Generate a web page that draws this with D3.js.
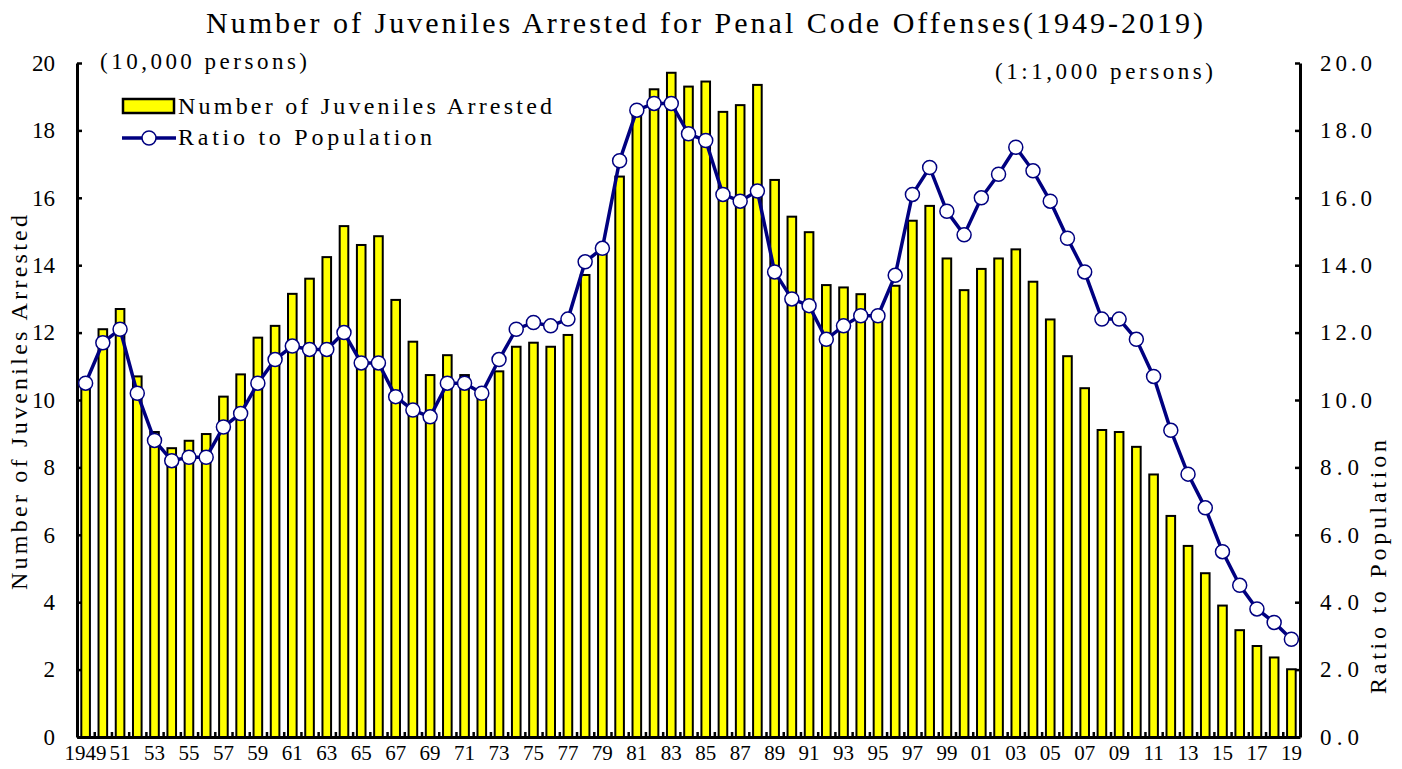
<!DOCTYPE html>
<html>
<head>
<meta charset="utf-8">
<script src="https://cdn.jsdelivr.net/npm/d3@7"></script>
<style>
  body { margin: 0; background: #fff; }
  text { font-family: "Liberation Serif", serif; fill: #000; }
</style>
</head>
<body>
<div class="chart"></div>
<script>
// Data
var years = d3.range(1949, 2020);
var arrested = [10.6, 12.1, 12.7, 10.7, 9.05, 8.57, 8.79, 8.99, 10.1, 10.76,
  11.85, 12.2, 13.15, 13.6, 14.24, 15.16, 14.6, 14.86, 12.97, 11.73,
  10.74, 11.33, 10.74, 10.1, 10.85, 11.58, 11.7, 11.58, 11.93, 13.71,
  14.4, 16.63, 18.7, 19.22, 19.71, 19.3, 19.45, 18.55, 18.75, 19.35,
  16.53, 15.44, 14.98, 13.41, 13.34, 13.14, 12.5, 13.39, 15.32, 15.76,
  14.2, 13.26, 13.89, 14.2, 14.47, 13.51, 12.39, 11.3, 10.35, 9.11,
  9.05, 8.61, 7.79, 6.56, 5.67, 4.86, 3.9, 3.17, 2.7, 2.36,
  2.01];
var ratio = [10.5, 11.7, 12.1, 10.2, 8.8, 8.2, 8.3, 8.3, 9.2, 9.6,
  10.5, 11.2, 11.6, 11.5, 11.5, 12.0, 11.1, 11.1, 10.1, 9.7,
  9.5, 10.5, 10.5, 10.2, 11.2, 12.1, 12.3, 12.2, 12.4, 14.1,
  14.5, 17.1, 18.6, 18.8, 18.8, 17.9, 17.7, 16.1, 15.9, 16.2,
  13.8, 13.0, 12.8, 11.8, 12.2, 12.5, 12.5, 13.7, 16.1, 16.9,
  15.6, 14.9, 16.0, 16.7, 17.5, 16.8, 15.9, 14.8, 13.8, 12.4,
  12.4, 11.8, 10.7, 9.1, 7.8, 6.8, 5.5, 4.5, 3.8, 3.4,
  2.9];
var leftTicks = d3.range(0, 21, 2);
var rightTicks = d3.range(0, 21, 2);
var labelYears = years.filter(d => d % 2 === 1);

var svgWidth = 1402;
var svgHeight = 769;
var margin = {top: 63, right: 102, bottom: 32, left: 77};
var width = svgWidth - margin.left - margin.right;
var height = svgHeight - margin.top - margin.bottom;

var svg = d3.select(".chart")
  .append("svg")
  .attr("width", svgWidth)
  .attr("height", svgHeight);

var chartGroup = svg.append("g")
  .attr("transform", "translate(" + margin.left + "," + margin.top + ")");

// Scales
var xScale = d3.scaleBand().domain(years).range([0, width]).padding(0);
var xIdx = d3.scaleLinear().domain([0, years.length]).range([0, width]);
var yLeft = d3.scaleLinear().domain([0, 20]).range([height, 0]);
var yRight = d3.scaleLinear().domain([0, 20]).range([height, 0]);
var bw = xScale.bandwidth();

// Bars
chartGroup.selectAll("rect.bar")
  .data(arrested)
  .enter()
  .append("rect")
  .attr("class", "bar")
  .attr("x", (d, i) => xScale(years[i]) + bw * 0.25)
  .attr("width", bw * 0.5)
  .attr("y", d => yLeft(d))
  .attr("height", d => height - yLeft(d))
  .attr("fill", "#ffff00")
  .attr("stroke", "#000")
  .attr("stroke-width", 2);

// Axes
function styleAxis(g, fontSize) {
  g.select(".domain").attr("stroke", "#000").attr("stroke-width", 3);
  g.selectAll(".tick line").attr("stroke", "#000").attr("stroke-width", 2.5);
  g.selectAll("text").style("font-size", fontSize + "px")
    .style("font-family", '"Liberation Serif", serif');
}

// small inward ticks between the bars
chartGroup.append("g")
  .attr("transform", `translate(0, ${height})`)
  .call(d3.axisBottom(xIdx).tickValues(d3.range(0, years.length + 1)).tickSize(-5).tickSizeOuter(0).tickFormat(""))
  .call(g => styleAxis(g, 20));

chartGroup.append("g")
  .attr("transform", `translate(0, ${height})`)
  .call(d3.axisBottom(xScale).tickValues(labelYears).tickSize(0).tickPadding(8)
    .tickFormat(d => d === 1949 ? "1949" : String(d).slice(2)))
  .call(g => g.select(".domain").remove())
  .call(g => styleAxis(g, 21));

chartGroup.append("g")
  .call(d3.axisLeft(yLeft).tickValues(leftTicks).tickSize(-5).tickSizeOuter(0).tickPadding(22))
  .call(g => styleAxis(g, 23));

chartGroup.append("g")
  .attr("transform", `translate(${width}, 0)`)
  .call(d3.axisRight(yRight).tickValues(rightTicks).tickSize(-5).tickSizeOuter(0).tickPadding(20)
    .tickFormat(d3.format(".1f")))
  .call(g => styleAxis(g, 23))
  .call(g => g.selectAll(".tick text")
    .attr("textLength", function() { return 13 * this.textContent.length; })
    .attr("lengthAdjust", "spacing"));

// Line
var line = d3.line()
  .x((d, i) => xScale(years[i]) + bw / 2)
  .y(d => yRight(d));

chartGroup.append("path")
  .datum(ratio)
  .attr("d", line)
  .attr("fill", "none")
  .attr("stroke", "#000080")
  .attr("stroke-width", 3.5);

chartGroup.selectAll("circle.pt")
  .data(ratio)
  .enter()
  .append("circle")
  .attr("class", "pt")
  .attr("cx", (d, i) => xScale(years[i]) + bw / 2)
  .attr("cy", d => yRight(d))
  .attr("r", 7)
  .attr("fill", "#fff")
  .attr("stroke", "#000080")
  .attr("stroke-width", 1.5);

// Title
svg.append("text")
  .attr("x", 206)
  .attr("y", 33)
  .attr("textLength", 997)
  .attr("lengthAdjust", "spacing")
  .style("font-size", "30px")
  .text("Number of Juveniles Arrested for Penal Code Offenses(1949-2019)");

// Units
svg.append("text")
  .attr("x", 100)
  .attr("y", 69)
  .attr("textLength", 207)
  .attr("lengthAdjust", "spacing")
  .style("font-size", "23px")
  .text("(10,000 persons)");

svg.append("text")
  .attr("x", 995)
  .attr("y", 79)
  .attr("textLength", 218)
  .attr("lengthAdjust", "spacing")
  .style("font-size", "23px")
  .text("(1:1,000 persons)");

// Axis titles
svg.append("text")
  .attr("transform", "translate(27, 590) rotate(-90)")
  .attr("textLength", 375)
  .attr("lengthAdjust", "spacing")
  .style("font-size", "24px")
  .text("Number of Juveniles Arrested");

svg.append("text")
  .attr("transform", "translate(1386, 694) rotate(-90)")
  .attr("textLength", 254)
  .attr("lengthAdjust", "spacing")
  .style("font-size", "24px")
  .text("Ratio to Population");

// Legend
var legend = svg.append("g");
legend.append("rect")
  .attr("x", 123).attr("y", 99)
  .attr("width", 51).attr("height", 14)
  .attr("fill", "#ffff00")
  .attr("stroke", "#000")
  .attr("stroke-width", 2.5);
legend.append("text")
  .attr("x", 178).attr("y", 114)
  .attr("textLength", 374)
  .attr("lengthAdjust", "spacing")
  .style("font-size", "24px")
  .text("Number of Juveniles Arrested");

legend.append("line")
  .attr("x1", 122).attr("x2", 176)
  .attr("y1", 138).attr("y2", 138)
  .attr("stroke", "#000080")
  .attr("stroke-width", 3.5);
legend.append("circle")
  .attr("cx", 149).attr("cy", 138).attr("r", 7)
  .attr("fill", "#fff")
  .attr("stroke", "#000080")
  .attr("stroke-width", 1.5);
legend.append("text")
  .attr("x", 178).attr("y", 145)
  .attr("textLength", 254)
  .attr("lengthAdjust", "spacing")
  .style("font-size", "24px")
  .text("Ratio to Population");
</script>
</body>
</html>
